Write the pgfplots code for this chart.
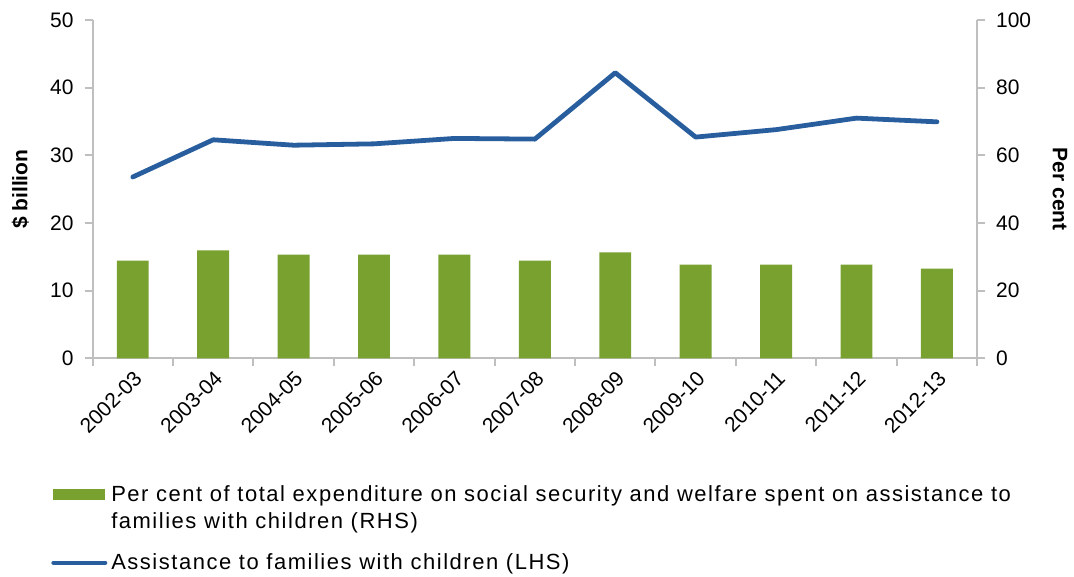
\documentclass[border=0pt]{standalone}
\usepackage{pgfplots}
\pgfplotsset{compat=1.18}
\usepackage{fontspec}
\setmainfont{Liberation Sans}
\newfontfamily\legfont[LetterSpace=7]{Liberation Sans}
\definecolor{barg}{RGB}{120,161,47}
\definecolor{lineb}{RGB}{41,94,158}
\definecolor{axg}{RGB}{191,191,191}

\pgfplotsset{
  common/.style={
    scale only axis, width=443pt, height=169.5pt,
    xmin=-0.5, xmax=10.5,
    ymin=0,
    axis line style={axg, line width=1pt},
    tick style={axg, line width=1pt},
    tick label style={font=\fontsize{10.5}{12}\selectfont, black},
    label style={font=\fontsize{10.5}{12}\selectfont\bfseries},
    /pgf/number format/assume math mode=true,
    clip=false,
  },
}

\begin{document}
\begin{tikzpicture}
% right axis: per cent (bars)
\begin{axis}[common,
  axis x line*=bottom, axis y line*=right,
  ymax=100, ytick={0,20,...,100},
  ylabel={Per cent},
  ylabel style={rotate=180, at={(rel axis cs:1.0937,0.5)}, anchor=center},
  xtick={0,...,10},
  xticklabels={2002-03,2003-04,2004-05,2005-06,2006-07,2007-08,2008-09,2009-10,2010-11,2011-12,2012-13},
  x tick label style={rotate=45, anchor=north east, inner sep=1pt},
  major x tick style={draw=none},
  minor xtick={-0.5,0.5,...,10.5},
  tick align=outside,
  major tick length=4pt, minor tick length=4pt,
  yticklabel style={xshift=2pt},
]
\addplot[ybar, bar width=16pt, fill=barg, draw=none] coordinates {
  (0,28.9) (1,31.9) (2,30.7) (3,30.7) (4,30.7) (5,28.9)
  (6,31.3) (7,27.7) (8,27.7) (9,27.7) (10,26.5)
};
\end{axis}
% left axis: $ billion (line)
\begin{axis}[common,
  axis x line=none, axis y line*=left,
  ymax=50, ytick={0,10,...,50},
  ylabel={\$ billion},
  ylabel style={at={(rel axis cs:-0.0815,0.5)}, anchor=center},
  tick align=outside, major tick length=4pt,
  yticklabel style={xshift=-2pt},
  legend style={at={(-0.047,-0.362)}, anchor=north west, draw=none,
    font=\legfont\fontsize{11}{13.5}\selectfont, cells={align=left, anchor=west},
    row sep=7pt, inner sep=0pt},
  legend cell align=left,
]
\addlegendimage{area legend, fill=barg, draw=none,
  legend image code/.code={\fill[barg] (0pt,4pt) rectangle (26pt,9.5pt);}}
\addlegendentry{Per cent of total expenditure on social security and welfare spent on assistance to\\families with children (RHS)}
\addplot[lineb, line width=2.4pt, line join=round, line cap=round,
  legend image code/.code={\draw[lineb, line width=2pt, line cap=round] (0pt,0pt) -- (26pt,0pt);}]
  coordinates {
  (0,26.8) (1,32.3) (2,31.5) (3,31.7) (4,32.5) (5,32.4)
  (6,42.2) (7,32.7) (8,33.8) (9,35.5) (10,34.95)
};
\addlegendentry{Assistance to families with children (LHS)}
\end{axis}
\path ([xshift=-46.35pt, yshift=-108pt]current axis.south west)
  rectangle ([xshift=47.5pt, yshift=10pt]current axis.north east);
\end{tikzpicture}
\end{document}
